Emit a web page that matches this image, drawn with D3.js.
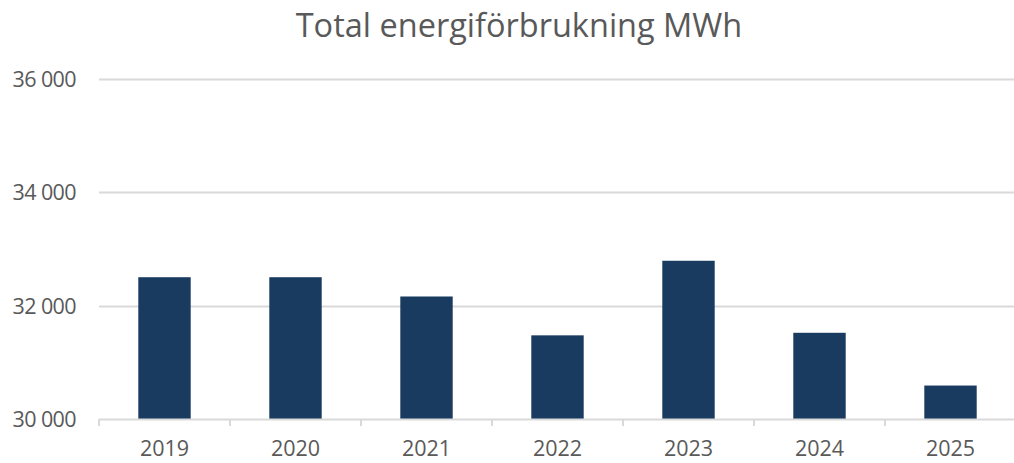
<!DOCTYPE html>
<html>
<head>
<meta charset="utf-8">
<script src="https://cdn.jsdelivr.net/npm/d3@7"></script>
<style>
	body{margin:0;background:#fff;}
	svg{display:block;font-family:"Open Sans",sans-serif;}
</style>
</head>
<body>
<script>
//chart data
var years=["2019","2020","2021","2022","2023","2024","2025"];
var energy=[32500,32500,32160,31475,32790,31520,30590];
var yTicks=[30000,32000,34000,36000];
var title="Total energiförbrukning MWh";

window.onload=setChart();

function setChart(){
	var width=1014,
		height=463;

	var svg=d3.select("body")
		.append("svg")
		.attr("width",width)
		.attr("height",height);

	//swedish style thousands separator
	var fmt=d3.formatLocale({decimal:",",thousands:" ",grouping:[3],currency:["","kr"]}).format(",d");

	var x=d3.scaleBand()
		.domain(years)
		.range([99,1016])
		.padding(0);

	var y=d3.scaleLinear()
		.domain([30000,36000])
		.range([419,78.7]);

	//title
	svg.append("text")
		.attr("x",519)
		.attr("y",37)
		.attr("text-anchor","middle")
		.attr("fill","#595959")
		.style("font-size","32.5px")
		.text(title);

	//gridlines
	svg.selectAll(".grid")
		.data(yTicks.slice(1))
		.enter()
		.append("line")
		.attr("class","grid")
		.attr("x1",99)
		.attr("x2",width)
		.attr("y1",function(d){return Math.round(y(d))+0.5;})
		.attr("y2",function(d){return Math.round(y(d))+0.5;})
		.attr("stroke","#d9d9d9")
		.attr("stroke-width",2);

	//y labels
	svg.selectAll(".ylab")
		.data(yTicks)
		.enter()
		.append("text")
		.attr("class","ylab")
		.attr("x",76)
		.attr("y",function(d){return y(d)+8;})
		.attr("text-anchor","end")
		.attr("fill","#595959")
		.style("font-size","21.5px")
		.style("letter-spacing","-0.6px")
		.text(function(d){return fmt(d);});

	//bars
	var bw=x.bandwidth()*0.4;
	svg.selectAll(".bar")
		.data(energy)
		.enter()
		.append("rect")
		.attr("class","bar")
		.attr("x",function(d,i){return x(years[i])+(x.bandwidth()-bw)/2;})
		.attr("width",bw)
		.attr("y",function(d){return y(d);})
		.attr("height",function(d){return y(30000)-y(d);})
		.attr("fill","#193b60");

	//x axis
	var xAxis=d3.axisBottom(x)
		.tickSize(0)
		.tickPadding(22);
	var gx=svg.append("g")
		.attr("transform","translate(0,419)")
		.call(xAxis);
	gx.select(".domain").remove();
	gx.selectAll("text")
		.attr("fill","#595959")
		.style("font-size","21.5px")
		.style("font-family","'Open Sans',sans-serif");

	svg.append("line")
		.attr("x1",99)
		.attr("x2",width)
		.attr("y1",419.5)
		.attr("y2",419.5)
		.attr("stroke","#d9d9d9")
		.attr("stroke-width",2);

	//category separators
	var seps=years.map(function(d){return x(d);});
	svg.selectAll(".sep")
		.data(seps)
		.enter()
		.append("line")
		.attr("class","sep")
		.attr("x1",function(d){return d;})
		.attr("x2",function(d){return d;})
		.attr("y1",419)
		.attr("y2",426)
		.attr("stroke","#d9d9d9")
		.attr("stroke-width",2);
};
</script>
</body>
</html>
